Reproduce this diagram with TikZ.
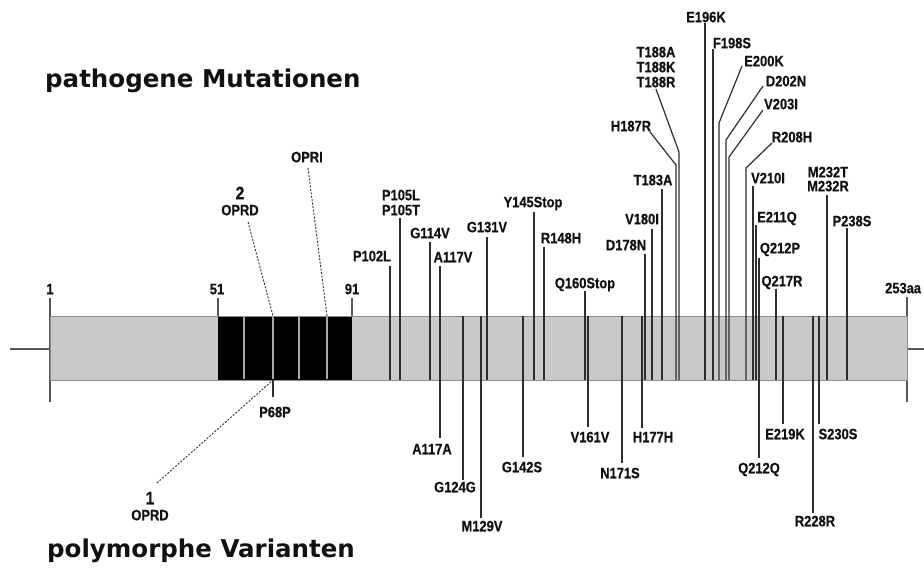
\documentclass[tikz,border=0pt]{standalone}
\usepackage{fontspec}
\newfontfamily\lblfont[FakeStretch=0.86,FakeBold=0.6]{Liberation Sans Bold}
\newfontfamily\ttlfont{DejaVu Sans Bold}
\definecolor{barfill}{HTML}{C9C9C9}
\definecolor{barline}{HTML}{8C8C8C}
\definecolor{mcol}{HTML}{2E2E2E}
\definecolor{txt}{HTML}{111111}
\tikzset{
  lbl/.style={inner sep=0pt, text height=10.5pt, text depth=0pt, anchor=center, text=txt, font=\lblfont\fontsize{15}{16}\selectfont},
  biglbl/.style={lbl, text height=12.5pt, font=\lblfont\fontsize{18}{19}\selectfont},
  title/.style={inner sep=0pt, anchor=base west, text=txt, font=\ttlfont\fontsize{24.5}{26}\selectfont},
  mline/.style={draw=mcol, line width=1.2pt},
  tick/.style={draw=mcol!80, line width=1.4pt},
  dline/.style={draw=mcol, line width=0.9pt, dash pattern=on 2pt off 1.5pt},
  divider/.style={draw=gray!70, line width=1.6pt}
}
\begin{document}
\begin{tikzpicture}[x=1pt,y=-1pt]
\path[use as bounding box] (0,0) rectangle (924,572);

% titles
\node[title] (t1) at (45,88) {pathogene Mutationen};
\node[title] (t2) at (47,557) {polymorphe Varianten};

% stubs and end ticks
\coordinate (ls) at (10,349);
\coordinate (rs) at (924,349);
\draw[tick] (ls) -- (50,349);
\draw[tick] (907,349) -- (rs);
\draw[tick] (50,298) -- (50,402);
\draw[tick] (907,297) -- (907,402);
\draw[tick] (218,298) -- (218,316);
\draw[tick] (352,298) -- (352,316);

% bar
\node[draw=barline, fill=barfill, line width=1pt, inner sep=0pt, minimum width=857pt, minimum height=64pt, anchor=north west] (bar) at (50,316) {};
\node[fill=black, inner sep=0pt, minimum width=134pt, minimum height=63pt, anchor=north west] (oct) at (218,316.5) {};
\foreach \d in {244,299,327} \draw[divider] (\d,317) -- (\d,379);

% numbers
\node[lbl] (n1) at (50,289) {1};
\node[lbl] (n51) at (217,289) {51};
\node[lbl] (n91) at (352,289) {91};
\node[lbl, anchor=west] (n253) at (885,288) {253aa};

% top straight mutations
\foreach \lx/\ty/\cx/\cy/\t [count=\i] in {
  390/266/372/256/P102L, 400/218/401/210/P105T, 430/242/430/233/G114V,
  440/266/453/257/A117V, 487/237/487/227/G131V, 534/212/533/202/Y145Stop,
  544/247/561/238/R148H, 585/291/585/283/Q160Stop, 645/254/626/245/D178N,
  652/229/642/219/V180I, 662/189/653/180/T183A, 705/23/706/17/E196K,
  713/49/732/43/F198S, 753/186/768/178/V210I, 756/225/777/217/E211Q,
  759/258/780/248/Q212P, 776/289/782/281/Q217R, 827/195/828/186/M232R,
  847/228/852/221/P238S}
{
  \node[lbl] (tu\i) at (\cx,\cy) {\t};
  \draw[mline] (\lx,\ty) -- (\lx,380);
}
\node[lbl] (p105l) at (401,195) {P105L};
\node[lbl] (m232t) at (828,172) {M232T};
\node[lbl] (t188a) at (656,52) {T188A};
\node[lbl] (t188k) at (656,67) {T188K};

% top slanted mutations
\foreach \sx/\sy/\ex/\ey/\cx/\cy/\t [count=\i] in {
  650/132/676/165/631/126/H187R, 656/89/679/152/656/82/T188R,
  742/66/719/123/764/61/E200K, 763/86/726/140/786/81/D202N,
  763/110/729/157/781/104/V203I, 772/143/746/168/792/137/R208H}
{
  \node[lbl] (ts\i) at (\cx,\cy) {\t};
  \draw[mline, line join=round] (\sx,\sy) -- (\ex,\ey) -- (\ex,380);
}

% bottom mutations
\foreach \lx/\by/\cx/\cy/\t [count=\i] in {
  440/438/432/449/A117A, 463/480/455/487/G124G, 481/518/482/526/M129V,
  523/457/522/467/G142S, 588/427/590/437/V161V, 622/463/620/473/N171S,
  642/428/653/437/H177H, 759/458/759/468/Q212Q, 783/424/785/434/E219K,
  813/513/815/521/R228R, 819/424/838/434/S230S}
{
  \node[lbl] (bu\i) at (\cx,\cy) {\t};
  \draw[mline] (\lx,316) -- (\lx,\by);
}

% P68P
\draw[divider] (273,317) -- (273,379);
\node[lbl] (p68p) at (275,412) {P68P};
\draw[mline] (273,380) -- (273,397);

% octarepeat labels
\node[lbl] (opri) at (307,157) {OPRI};
\node[biglbl] (two) at (240,193) {2};
\node[lbl] (oprd2) at (240,210) {OPRD};
\node[biglbl] (one) at (150,498) {1};
\node[lbl] (oprd1) at (150,515) {OPRD};
\coordinate (r5) at (327,316);
\coordinate (r2) at (273,316);
\coordinate (r1) at (273,380);
\draw[dline] (308,168) -- (r5);
\draw[dline] (248,222) -- (r2);
\draw[dline] (157,483) -- (r1);
\end{tikzpicture}
\end{document}
